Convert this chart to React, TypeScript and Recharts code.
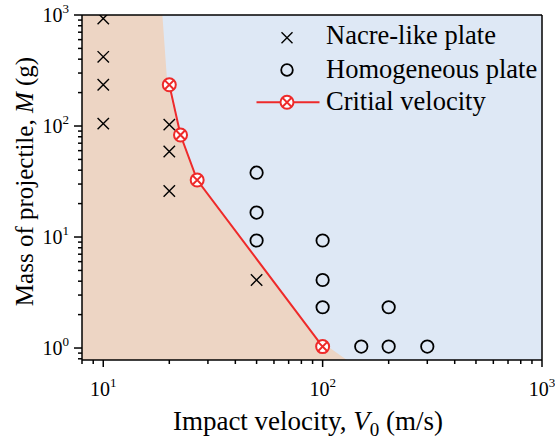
import React from 'react';
import {
  ComposedChart,
  XAxis,
  YAxis,
  Area,
  Line,
  Scatter,
  CartesianGrid,
  ReferenceLine,
  Legend,
} from 'recharts';

// Impact tests: projectile mass M (g) vs impact velocity V0 (m/s)
const nacrePlate = [
  { v: 10, m: 930 },
  { v: 10, m: 420 },
  { v: 10, m: 235 },
  { v: 10, m: 105 },
  { v: 20, m: 103 },
  { v: 20, m: 59 },
  { v: 20, m: 26 },
  { v: 50, m: 4.1 },
];

const homogeneousPlate = [
  { v: 50, m: 38 },
  { v: 50, m: 16.6 },
  { v: 50, m: 9.3 },
  { v: 100, m: 9.3 },
  { v: 100, m: 4.1 },
  { v: 100, m: 2.33 },
  { v: 200, m: 2.33 },
  { v: 150, m: 1.03 },
  { v: 200, m: 1.03 },
  { v: 300, m: 1.03 },
];

const criticalVelocity = [
  { v: 20, m: 235 },
  { v: 22.5, m: 83 },
  { v: 26.8, m: 32.6 },
  { v: 100, m: 1.03 },
];

// Edge of the shaded (non-perforated) region
const safeRegionEdge = [
  { v: 8, m: 1000 },
  { v: 18.6, m: 1000 },
  { v: 19.6, m: 235 },
  { v: 22.4, m: 83 },
  { v: 26.8, m: 32.6 },
  { v: 96, m: 1.15 },
  { v: 108, m: 1.0 },
  { v: 129, m: 0.78 },
];

const xTicks = [8, 9, 10, 20, 30, 40, 50, 60, 70, 80, 90, 100, 200, 300, 400, 500, 600, 700, 800, 900, 1000];
const yTicks = [0.8, 0.9, 1, 2, 3, 4, 5, 6, 7, 8, 9, 10, 20, 30, 40, 50, 60, 70, 80, 90, 100, 200, 300, 400, 500, 600, 700, 800, 900, 1000];

const legendLabels = ['Nacre-like plate', 'Homogeneous plate', 'Critial velocity'];

const FONT = '"Liberation Serif", "Times New Roman", serif';
const RED = '#EE2A2A';
const TAN = '#EDD5C4';
const BLUE = '#DEE8F5';

const isMajor = (v: number) => Math.abs(Math.log10(v) - Math.round(Math.log10(v))) < 1e-9;

const XTick = (props: any) => {
  const { x, y, payload } = props;
  const v = payload.value;
  const major = isMajor(v);
  return (
    <g>
      <line x1={x} y1={y} x2={x} y2={y + (major ? 7 : 4)} stroke="#000" strokeWidth={1.5} />
      {major && (
        <text x={x} y={y + 36} textAnchor="middle" fontFamily={FONT} fontSize={20} fill="#000">
          10
          <tspan dy={-9} fontSize={13}>
            {Math.round(Math.log10(v))}
          </tspan>
        </text>
      )}
    </g>
  );
};

const YTick = (props: any) => {
  const { x, y, payload } = props;
  const v = payload.value;
  const major = isMajor(v);
  return (
    <g>
      <line x1={x} y1={y} x2={x - (major ? 8 : 4)} y2={y} stroke="#000" strokeWidth={1.5} />
      {major && (
        <text x={x - 13} y={y + 7} textAnchor="end" fontFamily={FONT} fontSize={20} fill="#000">
          10
          <tspan dy={-9} fontSize={13}>
            {Math.round(Math.log10(v))}
          </tspan>
        </text>
      )}
    </g>
  );
};

const CrossMark = ({ cx, cy, s = 5.7 }: any) => (
  <path
    d={`M${cx - s},${cy - s}L${cx + s},${cy + s}M${cx - s},${cy + s}L${cx + s},${cy - s}`}
    stroke="#000"
    strokeWidth={1.4}
    fill="none"
  />
);

const RingMark = ({ cx, cy, r = 6.2 }: any) => (
  <circle cx={cx} cy={cy} r={r} stroke="#000" strokeWidth={1.8} fill="none" />
);

const CriticalMark = ({ cx, cy }: any) => {
  const r = 6.5;
  const s = 4.7;
  return (
    <g>
      <circle cx={cx} cy={cy} r={r} stroke={RED} strokeWidth={2} fill="#fff" />
      <path
        d={`M${cx - s},${cy - s}L${cx + s},${cy + s}M${cx - s},${cy + s}L${cx + s},${cy - s}`}
        stroke={RED}
        strokeWidth={2}
      />
    </g>
  );
};

const XTitle = (props: any) => {
  const vb = props.viewBox;
  return (
    <text x={vb.x + vb.width / 2 - 4} y={vb.y + 70} textAnchor="middle" fontFamily={FONT} fontSize={27} fill="#000">
      Impact velocity,{' '}
      <tspan fontStyle="italic">V</tspan>
      <tspan dy={6} fontSize={19}>0</tspan>
      <tspan dy={-6}> (m/s)</tspan>
    </text>
  );
};

const YTitle = (props: any) => {
  const vb = props.viewBox;
  const cx = 33;
  const cy = vb.y + vb.height / 2 - 6;
  return (
    <text
      x={cx}
      y={cy}
      transform={`rotate(-90, ${cx}, ${cy})`}
      textAnchor="middle"
      fontFamily={FONT}
      fontSize={25}
      fill="#000"
    >
      Mass of projectile, <tspan fontStyle="italic">M</tspan> (g)
    </text>
  );
};

const LegendBox = () => (
  <svg width={300} height={110} style={{ display: 'block', overflow: 'visible' }}>
    <CrossMark cx={37} cy={19.7} s={5.5} />
    <text x={76} y={25.5} fontFamily={FONT} fontSize={26.5} fill="#000">{legendLabels[0]}</text>
    <RingMark cx={37} cy={52} r={5.8} />
    <text x={76} y={59.8} fontFamily={FONT} fontSize={26.5} fill="#000">{legendLabels[1]}</text>
    <line x1={6.5} y1={84.3} x2={69.5} y2={84.3} stroke={RED} strokeWidth={2} />
    <CriticalMark cx={37} cy={84.3} />
    <text x={76} y={92} fontFamily={FONT} fontSize={26.5} fill="#000">{legendLabels[2]}</text>
  </svg>
);

export default function App() {
  return (
    <div style={{ position: 'absolute', left: 0, top: 0, width: 555, height: 441, background: '#fff' }}>
      <ComposedChart width={555} height={441} margin={{ top: 15, right: 13, left: 0, bottom: 0 }}>
        <CartesianGrid horizontal={false} vertical={false} fill={BLUE} />
        <XAxis
          dataKey="v"
          type="number"
          scale="log"
          domain={[8, 1000]}
          allowDataOverflow
          ticks={xTicks}
          interval={0}
          tick={<XTick />}
          tickLine={false}
          tickSize={0}
          tickMargin={0}
          height={81}
          axisLine={{ stroke: '#000', strokeWidth: 1.5 }}
          label={<XTitle />}
        />
        <YAxis
          dataKey="m"
          type="number"
          scale="log"
          domain={[0.78, 1000]}
          allowDataOverflow
          ticks={yTicks}
          interval={0}
          tick={<YTick />}
          tickLine={false}
          tickSize={0}
          tickMargin={0}
          width={82}
          axisLine={{ stroke: '#000', strokeWidth: 1.5 }}
          label={<YTitle />}
        />
        <Area
          data={safeRegionEdge}
          dataKey="m"
          type="linear"
          baseValue={0.78}
          stroke="none"
          fill={TAN}
          fillOpacity={1}
          isAnimationActive={false}
          legendType="none"
        />
        <ReferenceLine y={1000} stroke="#000" strokeWidth={1.5} />
        <ReferenceLine x={1000} stroke="#000" strokeWidth={1.5} />
        <Scatter
          data={nacrePlate}
          dataKey="m"
          name={legendLabels[0]}
          shape={(p: any) => <CrossMark cx={p.cx} cy={p.cy} />}
          isAnimationActive={false}
        />
        <Scatter
          data={homogeneousPlate}
          dataKey="m"
          name={legendLabels[1]}
          shape={(p: any) => <RingMark cx={p.cx} cy={p.cy} />}
          isAnimationActive={false}
        />
        <Line
          data={criticalVelocity}
          dataKey="m"
          name={legendLabels[2]}
          type="linear"
          stroke={RED}
          strokeWidth={2}
          dot={(p: any) => <CriticalMark key={p.index} cx={p.cx} cy={p.cy} />}
          isAnimationActive={false}
        />
        <Legend
          layout="vertical"
          align="center"
          verticalAlign="middle"
          content={() => <LegendBox />}
          wrapperStyle={{ left: 250, top: 18, width: 300, height: 110 }}
        />
      </ComposedChart>
    </div>
  );
}
